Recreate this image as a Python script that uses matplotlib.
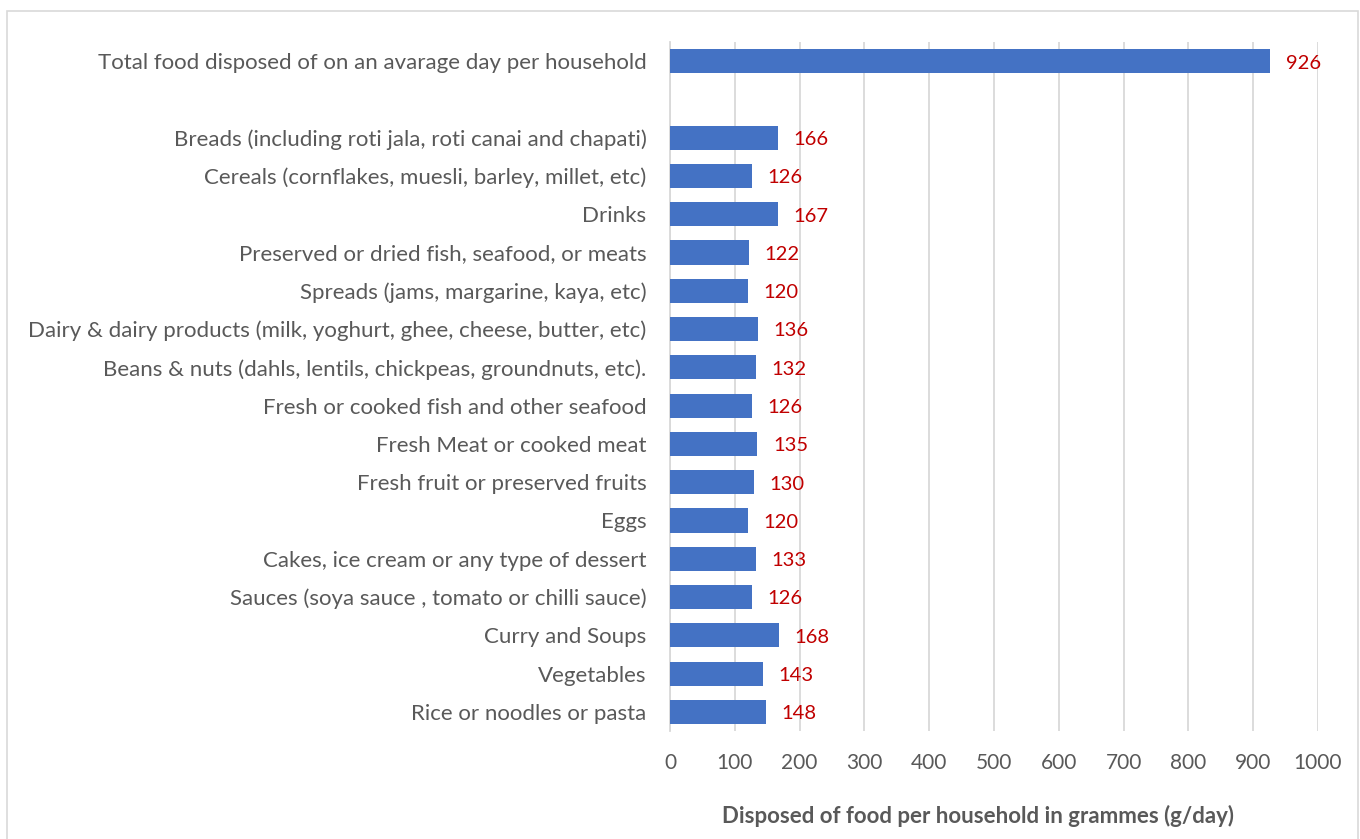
import matplotlib.pyplot as plt
from matplotlib.patches import Rectangle

categories = [
    'Total food disposed of on an avarage day per household',
    '',
    'Breads (including roti jala, roti canai and chapati)',
    'Cereals (cornflakes, muesli, barley, millet, etc)',
    'Drinks',
    'Preserved or dried fish, seafood, or meats',
    'Spreads (jams, margarine, kaya, etc)',
    'Dairy & dairy products (milk, yoghurt, ghee, cheese, butter, etc)',
    'Beans & nuts (dahls, lentils, chickpeas, groundnuts, etc).',
    'Fresh or cooked fish and other seafood',
    'Fresh Meat or cooked meat',
    'Fresh fruit or preserved fruits',
    'Eggs',
    'Cakes, ice cream or any type of dessert',
    'Sauces (soya sauce , tomato or chilli sauce)',
    'Curry and Soups',
    'Vegetables',
    'Rice or noodles or pasta',
]
values = [926, None, 166, 126, 167, 122, 120, 136, 132, 126, 135, 130, 120, 133, 126, 168, 143, 148]
x_ticks = [0, 100, 200, 300, 400, 500, 600, 700, 800, 900, 1000]

plt.rcParams['font.family'] = ['Lato', 'DejaVu Sans']

fig = plt.figure(figsize=(13.6, 8.39), dpi=100)
ax = fig.add_axes([670 / 1360, 1 - 731 / 839, 648 / 1360, 689 / 839])

# frame around the chart
fig.patches.append(Rectangle((7 / 1360, -0.01), 1351 / 1360, 1 - 11 / 839 + 0.01,
                             transform=fig.transFigure, fill=False,
                             edgecolor='#d9d9d9', linewidth=1.2))

pos = list(range(len(categories)))
for p, v in zip(pos, values):
    if v is None:
        continue
    ax.barh(p, v, height=0.63, color='#4472c4', zorder=3)
    ax.text(v + 24, p + 0.05, str(v), va='center', ha='left', color='#c00000', fontsize=14.5)

ax.set_ylim(len(categories) - 0.5, -0.5)
ax.set_xlim(0, 1000)
ax.set_yticks(pos)
ax.set_yticklabels(categories, fontsize=16, color='#595959')
ax.set_xticks(x_ticks)
ax.set_xticklabels([str(t) for t in x_ticks], fontsize=15, color='#595959')
ax.tick_params(axis='both', length=0)
ax.tick_params(axis='y', pad=17)
ax.tick_params(axis='x', pad=16)
ax.grid(axis='x', color='#d9d9d9', linewidth=1.3, zorder=0)
for s in ['top', 'right', 'bottom']:
    ax.spines[s].set_visible(False)
ax.spines['left'].set_color('#d9d9d9')
ax.spines['left'].set_linewidth(1.3)

ax.set_xlabel('Disposed of food per household in grammes (g/day)', fontsize=16,
              fontweight='bold', color='#595959')
ax.xaxis.set_label_coords(0.475, -0.107)

plt.savefig('out.png', dpi=100)
